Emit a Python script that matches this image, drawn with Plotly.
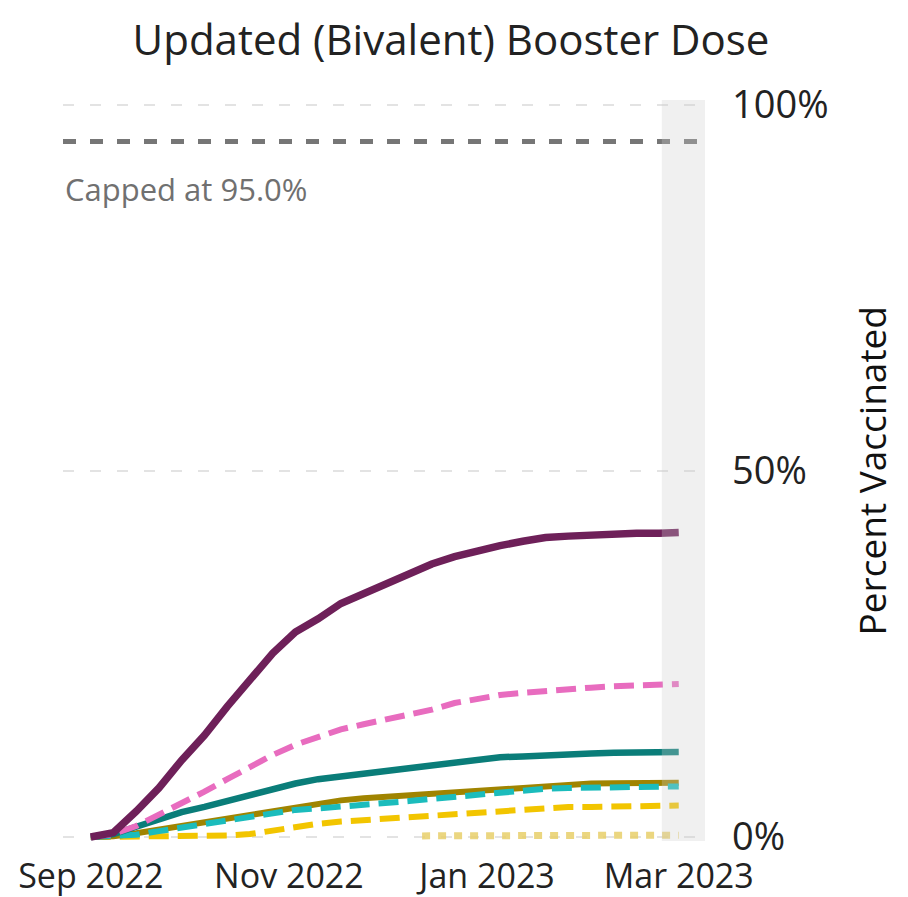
import plotly.graph_objects as go

# Weekly dates from Sep 1, 2022 to Mar 1, 2023
dates = ["2022-09-01", "2022-09-08", "2022-09-15", "2022-09-22", "2022-09-29",
         "2022-10-06", "2022-10-13", "2022-10-20", "2022-10-27", "2022-11-03",
         "2022-11-10", "2022-11-17", "2022-11-24", "2022-12-01", "2022-12-08",
         "2022-12-15", "2022-12-22", "2022-12-29", "2023-01-05", "2023-01-12",
         "2023-01-19", "2023-01-26", "2023-02-02", "2023-02-09", "2023-02-16",
         "2023-02-23", "2023-03-01"]

purple_solid = [0, 0.6, 3.5, 6.7, 10.5, 13.9, 17.8, 21.4, 25.1, 28.0, 29.8, 31.9, 33.3,
                34.6, 36.1, 37.3, 38.3, 39.1, 39.8, 40.4, 40.9, 41.1, 41.3, 41.4, 41.5,
                41.5, 41.6]
pink_dash = [0, 0.4, 1.5, 3.0, 4.6, 6.2, 7.9, 9.6, 11.2, 12.6, 13.7, 14.7, 15.4, 16.0,
             16.6, 17.4, 18.3, 18.9, 19.4, 19.7, 20.0, 20.2, 20.4, 20.6, 20.7, 20.8, 20.9]
teal_solid = [0, 0.4, 1.4, 2.5, 3.4, 4.1, 4.9, 5.8, 6.6, 7.3, 7.9, 8.3, 8.7, 9.1, 9.5,
              9.9, 10.3, 10.6, 10.9, 11.0, 11.2, 11.3, 11.4, 11.5, 11.55, 11.6, 11.6]
olive_solid = [0, 0.1, 0.5, 1.0, 1.6, 2.2, 2.7, 3.2, 3.7, 4.2, 4.6, 5.0, 5.3, 5.5, 5.7,
               5.9, 6.1, 6.4, 6.7, 6.9, 7.1, 7.2, 7.3, 7.35, 7.4, 7.4, 7.4]
cyan_dash = [0, 0.05, 0.3, 0.8, 1.3, 1.8, 2.3, 2.8, 3.3, 3.7, 3.9, 4.1, 4.4, 4.6, 4.9,
             5.2, 5.5, 5.9, 6.2, 6.5, 6.6, 6.7, 6.75, 6.8, 6.8, 6.85, 6.9]
yellow_dash = [0, 0, 0, 0, 0.05, 0.1, 0.2, 0.4, 0.9, 1.4, 1.8, 2.1, 2.3, 2.5, 2.7, 2.9,
               3.2, 3.4, 3.7, 3.9, 4.0, 4.1, 4.1, 4.15, 4.2, 4.2, 4.3]

dot_dates = ["2022-12-12", "2022-12-19", "2022-12-26", "2023-01-02", "2023-01-09",
             "2023-01-16", "2023-01-23", "2023-01-30", "2023-02-06", "2023-02-13",
             "2023-02-20", "2023-02-27", "2023-03-01"]
lightyellow_dot = [0.15, 0.15, 0.15, 0.2, 0.2, 0.2, 0.2, 0.2, 0.2, 0.25, 0.25, 0.25, 0.25]

cap_value = 95.0
x_ticks = ["2022-09-01", "2022-11-01", "2023-01-01", "2023-03-01"]
y_ticks = [0, 50, 100]
y_tick_labels = ["0%", "50%", "100%"]

FONT = "Open Sans"

fig = go.Figure()

series = [
    (dot_dates, lightyellow_dot, "#e8cf6a", "8px,8px", 7, 0.85),
    (dates, yellow_dash, "#f2c500", "20px,9px", 6, 1),
    (dates, olive_solid, "#a08400", "solid", 6, 1),
    (dates, cyan_dash, "#1bbcbc", "20px,9px", 6, 1),
    (dates, teal_solid, "#0a7d79", "solid", 6.5, 1),
    (dates, pink_dash, "#e86cbf", "20px,9px", 6, 1),
    (dates, purple_solid, "#6e2059", "solid", 7.5, 1),
]
for xs, ys, col, dash, w, op in series:
    fig.add_trace(go.Scatter(x=xs, y=ys, mode="lines", opacity=op,
                             line=dict(color=col, width=w, dash=dash),
                             hoverinfo="skip", showlegend=False))

# 95% cap line
fig.add_shape(type="line", xref="paper", x0=0, x1=1, yref="y", y0=cap_value, y1=cap_value,
              line=dict(color="#767676", width=5, dash="13px,14px"), layer="above")

# Recent-data band
fig.add_shape(type="rect", xref="x", x0="2023-02-23 19:00", x1="2023-03-09 02:00",
              yref="paper", y0=0, y1=1, fillcolor="rgba(205,205,205,0.3)",
              line=dict(width=0), layer="above")

fig.add_annotation(text="Capped at 95.0%", xref="paper", x=0, xanchor="left",
                   yref="y", y=88.5, yanchor="middle", showarrow=False,
                   font=dict(family=FONT, size=31, color="#707070"))

fig.add_annotation(text="Percent Vaccinated", xref="paper", x=1.26, xanchor="center",
                   yref="paper", y=0.5, yanchor="middle", showarrow=False, textangle=-90,
                   font=dict(family=FONT, size=37, color="#111111"))

# page body has an 8px margin; figure offset accordingly inside the 908x897 window
fig.update_layout(
    width=900, height=889,
    margin=dict(l=55, r=203, t=92, b=56, autoexpand=False),
    paper_bgcolor="white", plot_bgcolor="white",
    title=dict(text="Updated (Bivalent) Booster Dose", x=(451 - 8) / 900, xanchor="center",
               y=1 - 32 / 889, yanchor="middle", yref="container",
               font=dict(family=FONT, size=42, color="#222222")),
    xaxis=dict(range=["2022-08-23 11:00", "2023-03-09 02:00"], tickvals=x_ticks,
               tickformat="%b %Y", showgrid=False, zeroline=False, showline=False,
               ticks="", ticklabelstandoff=12, automargin=False,
               tickfont=dict(family=FONT, size=34, color="#222222")),
    yaxis=dict(range=[-0.55, 100.68], side="right", tickvals=y_ticks,
               ticktext=y_tick_labels, showgrid=True, gridcolor="#e3e3e3", gridwidth=2,
               griddash="11px,16px", zeroline=False, showline=False, ticks="",
               ticklabelstandoff=26, automargin=False,
               tickfont=dict(family=FONT, size=38, color="#222222")),
)

fig.write_html("out.html")
